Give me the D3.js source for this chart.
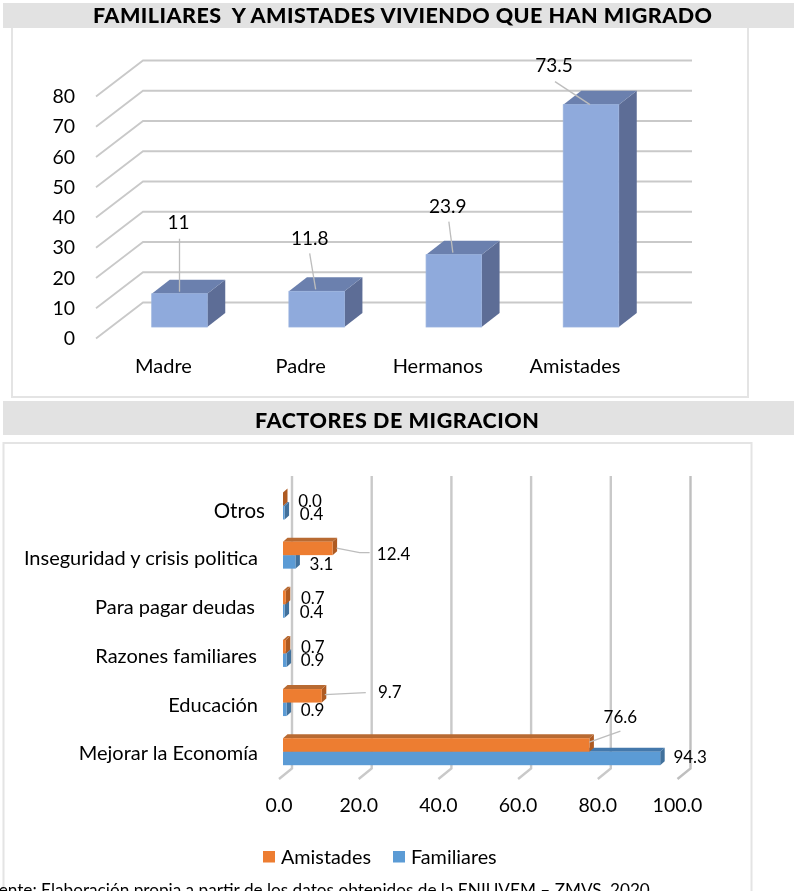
<!DOCTYPE html>
<html><head><meta charset="utf-8">
<script src="https://cdn.jsdelivr.net/npm/d3@7"></script>
<style>html,body{margin:0;padding:0;background:#fff;overflow:hidden}svg{display:block;font-family:Lato,sans-serif;filter:blur(.45px)}</style>
</head><body><svg id="c" width="794" height="891"></svg>
<script>
// ---- data ----
const title1 = "FAMILIARES  Y AMISTADES VIVIENDO QUE HAN MIGRADO";
const title2 = "FACTORES DE MIGRACION";
const people = ["Madre","Padre","Hermanos","Amistades"];
const peopleValues = [11,11.8,23.9,73.5];
const peopleLabels = ["11","11.8","23.9","73.5"];
const yTicks = [0,10,20,30,40,50,60,70,80];
const factors = ["Otros","Inseguridad y crisis politica","Para pagar deudas","Razones familiares","Educación","Mejorar la Economía"];
const amistades = [0.0,12.4,0.7,0.7,9.7,76.6];
const familiares = [0.4,3.1,0.4,0.9,0.9,94.3];
const xTicks = [0,20,40,60,80,100];
const seriesNames = ["Amistades","Familiares"];
const footnote = "Fuente: Elaboración propia a partir de los datos obtenidos de la ENIUVEM – ZMVS, 2020";

// ---- layout ----
const svg = d3.select("#c");
const gridCol = "#c9c9c9", borderCol = "#e4e4e4", bandCol = "#e2e2e2";
function rect(x,y,w,h,fill,stroke,sw){return svg.append("rect").attr("x",x).attr("y",y).attr("width",w).attr("height",h).attr("fill",fill).attr("stroke",stroke||"none").attr("stroke-width",sw||0);}
function txt(s,x,y,size,anchor,weight){return svg.append("text").text(s).attr("x",x).attr("y",y).attr("font-size",size).attr("text-anchor",anchor||"middle").attr("dominant-baseline","central").attr("font-weight",weight||400).attr("fill","#000");}
function poly(pts,fill){return svg.append("polygon").attr("points",pts.map(p=>p.join(",")).join(" ")).attr("fill",fill);}
function leader(pts,w){return svg.append("path").attr("d",d3.line()(pts)).attr("fill","none").attr("stroke","#bdbdbd").attr("stroke-width",w||1.3);}

// panels and title bands
rect(12,20,736,377,"#fff",borderCol,2);
rect(3.5,443,748,470,"#fff",borderCol,2);
rect(3,3,791,25,bandCol);
rect(3,401,791,34,bandCol);
txt(title1,402.5,14.5,21.5,"middle",900).attr("textLength",619).attr("lengthAdjust","spacing").style("white-space","pre");
txt(title2,397,420,21.5,"middle",900).attr("textLength",284).attr("lengthAdjust","spacing");

// ---- chart 1 : 3D columns ----
const depthWall = {dx:47,dy:-36};
const depthBar = {dx:18,dy:-14};
const yWall = d3.scaleLinear().domain([0,80]).range([338.5,96.5]);
const yBar = d3.scaleLinear().domain([0,80]).range([327,85]);
const xBar = d3.scalePoint().domain(people).range([179.5,591]);
const barW = 55.5;
yTicks.forEach(t=>{
  const y = yWall(t);
  leader([[96,y],[96+depthWall.dx,y+depthWall.dy],[692,y+depthWall.dy]],1.8).attr("stroke",gridCol);
  txt(t,75,y-1,19.5,"end");
});
people.forEach((p,i)=>{
  const x0 = xBar(p)-barW/2, x1 = x0+barW, yt = yBar(peopleValues[i]), yb = yBar(0);
  const d = depthBar;
  poly([[x1,yt],[x1+d.dx,yt+d.dy],[x1+d.dx,yb+d.dy],[x1,yb]],"#5d6d96");
  poly([[x0,yt],[x0+d.dx,yt+d.dy],[x1+d.dx,yt+d.dy],[x1,yt]],"#6b80ae");
  rect(x0,yt,barW,yb-yt,"#8faadc","#98b1de",.8);
  txt(p,xBar(p)-16,365,20);
});
// label placement relative to column top-centre: [label dx, label dy, leader start dx, dy, end dx, dy]
const peopleLabelPos = [[-1,-72,0,-55,0,-2],[-7,-54,-7,-38,-1,-2],[-6,-49,-5,-33,-1,-2],[-37,-40,-36,-23,-1,0]];
people.forEach((p,i)=>{
  const cx=xBar(p), cy=yBar(peopleValues[i]), q=peopleLabelPos[i];
  leader([[cx+q[2],cy+q[3]],[cx+q[4],cy+q[5]]]);
  txt(peopleLabels[i],cx+q[0],cy+q[1],19);
});

// ---- chart 2 : 3D horizontal bars ----
const xGrid = d3.scaleLinear().domain([0,100]).range([292,690.5]);
const xH = d3.scaleLinear().domain([0,100]).range([283,683]);
const yB = d3.scalePoint().domain(factors).range([506,751.7]);
const barH = 13.5, dB = {dx:4.5,dy:-4};
xTicks.forEach(t=>{
  const x = xGrid(t);
  svg.append("path").attr("d",d3.line()([[x-13,779],[x,768.5],[x,476]])).attr("fill","none").attr("stroke",t===100?"#bfbfbf":gridCol).attr("stroke-width",2.4);
  txt(d3.format(".1f")(t),x-13,804,19.5);
});
function hbar(yTop,v,front,top,side){
  const x1=xH(v), x0=xH(0), d=dB;
  poly([[x1,yTop],[x1+d.dx,yTop+d.dy],[x1+d.dx,yTop+barH+d.dy],[x1,yTop+barH]],side);
  poly([[x0,yTop],[x0+d.dx,yTop+d.dy],[x1+d.dx,yTop+d.dy],[x1,yTop]],top);
  rect(x0,yTop,Math.max(x1-x0,0),barH,front);
}
const catEnd = [265,258,255,257,258,258];
const catDy = [3.5,2,2,2,1,0.5];
factors.forEach((f,i)=>{
  const y=yB(f);
  hbar(y,familiares[i],"#5b9bd5","#4478ab","#41719c");
  hbar(y-barH,amistades[i],"#ed7d31","#b86a32","#ae5a21");
  txt(f,catEnd[i],y+catDy[i],i===0?20.5:20,"end");
});
// label offsets from bar end: amistades [dx,dy], familiares [dx,dy]
const amPos = [[27,-6],[61,-2],[27,-7],[27,-7],[68,-11],[31,-35]];
const faPos = [[27,7],[26,8],[27,7],[26,6],[26,7],[30,5]];
factors.forEach((f,i)=>{
  const y=yB(f);
  txt(d3.format(".1f")(amistades[i]),xH(amistades[i])+amPos[i][0],y+amPos[i][1],17);
  txt(d3.format(".1f")(familiares[i]),xH(familiares[i])+faPos[i][0],y+faPos[i][1],17);
});
const iI=factors.indexOf("Inseguridad y crisis politica"), iE=factors.indexOf("Educación"), iM=factors.indexOf("Mejorar la Economía");
let e=xH(amistades[iI]), yy=yB(factors[iI]);
leader([[e+4,yy-7],[e+27,yy-2.5],[e+37,yy-2.5]]);
e=xH(amistades[iE]); yy=yB(factors[iE]);
leader([[e+3,yy-8],[e+44,yy-10]]);
e=xH(amistades[iM]); yy=yB(factors[iM]);
leader([[e,yy-9.5],[e+31,yy-20.5]]);

// legend
const legendX=[263,393], legendCols=["#ed7d31","#5b9bd5"];
seriesNames.forEach((s,i)=>{
  rect(legendX[i],851,12,11.5,legendCols[i]);
  txt(s,legendX[i]+18,855.5,19.8,"start");
});
// footnote, cut by page edge
txt(footnote,-20,889,17.2,"start");
</script></body></html>
